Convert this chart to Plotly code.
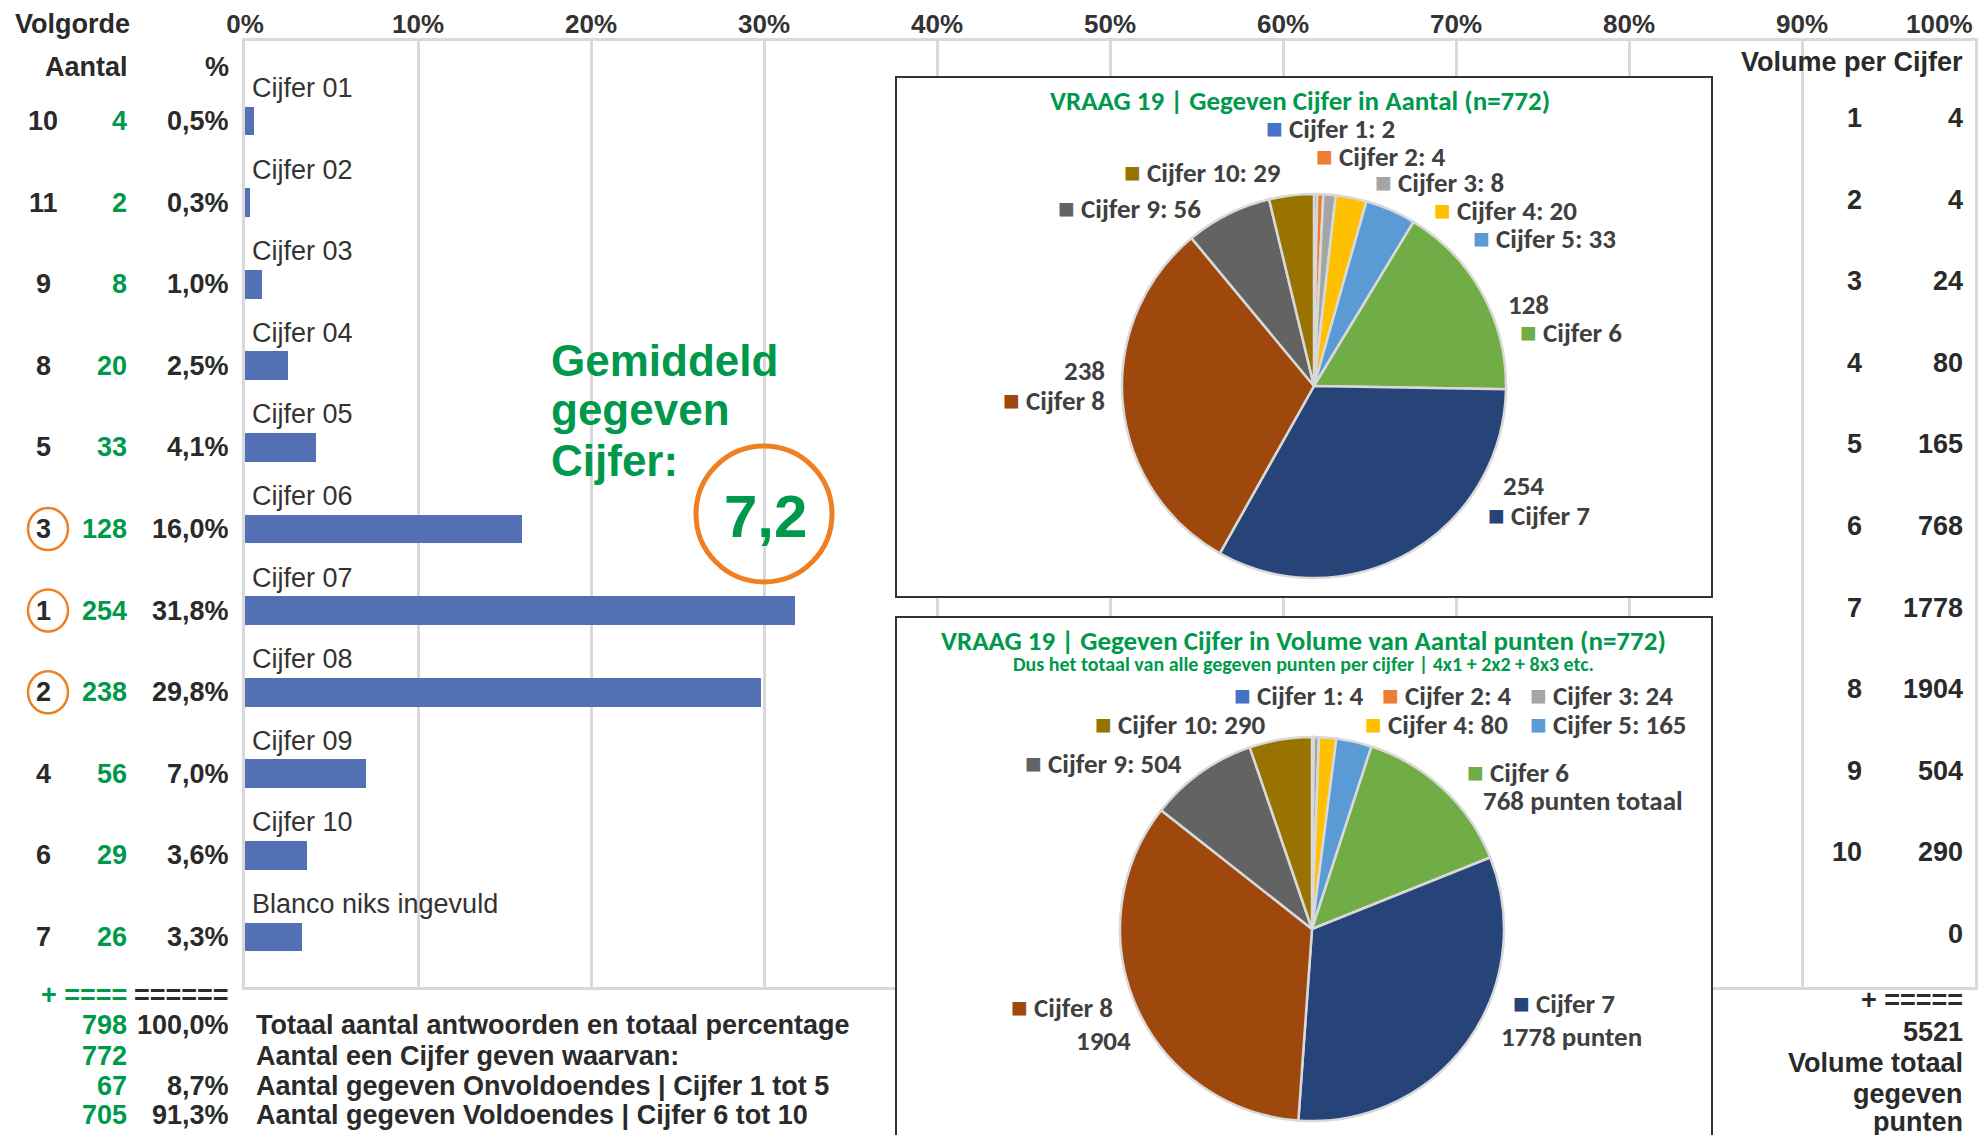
import plotly.graph_objects as go

W, H = 1988, 1135

# ---------------- data ----------------
categories = ["Cijfer 01", "Cijfer 02", "Cijfer 03", "Cijfer 04", "Cijfer 05", "Cijfer 06",
              "Cijfer 07", "Cijfer 08", "Cijfer 09", "Cijfer 10", "Blanco niks ingevuld"]
volgorde = [10, 11, 9, 8, 5, 3, 1, 2, 4, 6, 7]
aantal = [4, 2, 8, 20, 33, 128, 254, 238, 56, 29, 26]
percentages = [0.5, 0.3, 1.0, 2.5, 4.1, 16.0, 31.8, 29.8, 7.0, 3.6, 3.3]

x_tick_vals = [0, 10, 20, 30, 40, 50, 60, 70, 80, 90, 100]
x_tick_labels = ["0%", "10%", "20%", "30%", "40%", "50%", "60%", "70%", "80%", "90%", "100%"]

volume_grades = ["1", "2", "3", "4", "5", "6", "7", "8", "9", "10", ""]
volume_per_cijfer = [4, 4, 24, 80, 165, 768, 1778, 1904, 504, 290, 0]
volume_total = 5521

summary_counts = ["798", "772", "67", "705"]
summary_pcts = ["100,0%", "", "8,7%", "91,3%"]
summary_texts = ["Totaal aantal antwoorden en totaal percentage",
                 "Aantal een Cijfer geven waarvan:",
                 "Aantal gegeven Onvoldoendes | Cijfer 1 tot 5",
                 "Aantal gegeven Voldoendes | Cijfer 6 tot 10"]
gemiddeld_lines = ["Gemiddeld", "gegeven", "Cijfer:"]
gemiddeld_value = "7,2"

pie_grades = [1, 2, 3, 4, 5, 6, 7, 8, 9, 10]
pie_labels = ["Cijfer %d" % g for g in pie_grades]
pie_aantal = [2, 4, 8, 20, 33, 128, 254, 238, 56, 29]
pie_volume = [4, 4, 24, 80, 165, 768, 1778, 1904, 504, 290]
pie1_title = "VRAAG 19 | Gegeven Cijfer in Aantal (n=772)"
pie2_title = "VRAAG 19 | Gegeven Cijfer in Volume van Aantal punten (n=772)"
pie2_subtitle = "Dus het totaal van alle gegeven punten per cijfer | 4x1 + 2x2 + 8x3 etc."

# ---------------- styles ----------------
pie_colors = ["#4472C4", "#ED7D31", "#A5A5A5", "#FFC000", "#5B9BD5",
              "#70AD47", "#264478", "#9E480E", "#636363", "#997300"]
GREEN = "#00994C"
DARK = "#2A2A2A"
GRID = "#D9D9D9"
ORANGE = "#EE7F22"
BAR = "#5470B4"
PIETXT = "#404040"
ARIAL = "Liberation Sans, Arial, sans-serif"
CALIBRI = "Carlito, Calibri, Lato, sans-serif"

PLOT_L, PLOT_R, PLOT_T, PLOT_B = 245, 1975, 41, 990
ROW0, ROW_STEP = 121, 81.6


def px(x):
    return x / W


def py(y):
    return 1 - y / H


y_pos = list(range(len(categories)))
y_top = -(ROW0 - PLOT_T) / ROW_STEP
y_bot = (len(categories) - 1) + (PLOT_B - (ROW0 + ROW_STEP * (len(categories) - 1))) / ROW_STEP


def xdata(x):
    return (x - PLOT_L) / (PLOT_R - PLOT_L) * 100


def ydata(y):
    return y_top + (y - PLOT_T) / ROW_STEP


def pct_txt(p):
    return ("%.1f" % p).replace(".", ",") + "%"


fig = go.Figure()

fig.add_trace(go.Bar(
    x=percentages, y=y_pos, orientation="h", width=0.355,
    marker=dict(color=BAR, line=dict(width=0)), showlegend=False, hoverinfo="x"))


def pie_domain(cx, cy, r):
    return dict(x=[px(cx - r), px(cx + r)], y=[py(cy + r), py(cy - r)])


for vals, dom in [(pie_aantal, pie_domain(1314, 386, 192)),
                  (pie_volume, pie_domain(1312, 929, 192))]:
    fig.add_trace(go.Pie(
        values=vals, labels=pie_labels, sort=False, direction="clockwise", rotation=0,
        marker=dict(colors=pie_colors, line=dict(color=GRID, width=2.5)),
        textinfo="none", domain=dom, showlegend=False, hoverinfo="label+value"))

ann = []


def A(text, x, y, size=27, color=DARK, xanchor="center", xref="paper", yref="paper",
      family=ARIAL, weight="bold", yshift=0, xshift=0):
    ann.append(dict(text=text, x=x, y=y, xref=xref, yref=yref, xanchor=xanchor, yanchor="middle",
                    showarrow=False, yshift=yshift, xshift=xshift,
                    font=dict(family=family, size=size, color=color, weight=weight)))


# headers of left table
A("Volgorde", px(13), py(24), xanchor="left")
A("Aantal", px(130), py(67), xanchor="right")
A("%", px(231), py(67), xanchor="right")

# left table rows and bar category labels
for i, cat in enumerate(categories):
    A(str(volgorde[i]), px(43), i, xanchor="center", yref="y")
    A(str(aantal[i]), px(129), i, xanchor="right", yref="y", color=GREEN)
    A(pct_txt(percentages[i]), px(231), i, xanchor="right", yref="y")
    A(cat, 0, i, xref="x", yref="y", xanchor="left", xshift=5, yshift=33,
      size=27, weight="normal", color="#333333")

# last tick label, pushed inside like the original
A(x_tick_labels[-1], x_tick_vals[-1], py(24), xref="x", xanchor="right", size=26, color="#333333")

# summary rows
A("+ ====", px(129), py(995), xanchor="right", color=GREEN)
A("======", px(231), py(995), xanchor="right")
for k, yy in enumerate([1025, 1056, 1086, 1115]):
    A(summary_counts[k], px(129), py(yy), xanchor="right", color=GREEN)
    if summary_pcts[k]:
        A(summary_pcts[k], px(231), py(yy), xanchor="right")
    A(summary_texts[k], px(254), py(yy), xanchor="left", size=27)

# right table
A("Volume per Cijfer", px(1965), py(62), xanchor="right")
for i in range(len(volume_per_cijfer)):
    if volume_grades[i]:
        A(volume_grades[i], px(1864), i, yref="y", xanchor="right", yshift=3)
    A(str(volume_per_cijfer[i]), px(1965), i, yref="y", xanchor="right", yshift=3)
A("+ =====", px(1965), py(1000), xanchor="right")
A(str(volume_total), px(1965), py(1032), xanchor="right")
A("Volume totaal", px(1965), py(1063), xanchor="right")
A("gegeven", px(1965), py(1094), xanchor="right")
A("punten", px(1965), py(1122), xanchor="right")

# Gemiddeld
for line, yy in zip(gemiddeld_lines, [360, 410, 460]):
    A(line, px(549), py(yy), xanchor="left", size=44, color=GREEN)
A(gemiddeld_value, px(765), py(517), size=60, color=GREEN)


def sq(i):
    return '<span style="color:%s;font-size:28px">■</span> ' % pie_colors[i]


PS = 27
# pie 1 titles / labels
A(pie1_title, px(1300), py(100), size=27, color=GREEN, family=CALIBRI)
p1_pos = {0: (1264, 128), 1: (1314, 156), 9: (1122, 172), 2: (1373, 183), 8: (1056, 208),
          3: (1432, 210), 4: (1471, 238)}
for i, (x0, y0) in p1_pos.items():
    A(sq(i) + "%s: %d" % (pie_labels[i], pie_aantal[i]), px(x0), py(y0), xanchor="left",
      size=PS, family=CALIBRI, color=PIETXT)
A(str(pie_aantal[5]), px(1506), py(304), xanchor="left", size=PS, family=CALIBRI, color=PIETXT)
A(sq(5) + pie_labels[5], px(1518), py(332), xanchor="left", size=PS, family=CALIBRI, color=PIETXT)
A(str(pie_aantal[7]), px(1107), py(370), xanchor="right", size=PS, family=CALIBRI, color=PIETXT)
A(sq(7) + pie_labels[7], px(1107), py(401), xanchor="right", size=PS, family=CALIBRI, color=PIETXT)
A(str(pie_aantal[6]), px(1501), py(486), xanchor="left", size=PS, family=CALIBRI, color=PIETXT)
A(sq(6) + pie_labels[6], px(1486), py(515), xanchor="left", size=PS, family=CALIBRI, color=PIETXT)

# pie 2 titles / labels
A(pie2_title, px(1303), py(640), size=27, color=GREEN, family=CALIBRI)
A(pie2_subtitle, px(1303), py(664), size=20, color=GREEN, family=CALIBRI)
p2_pos = {0: (1232, 695), 1: (1380, 695), 2: (1528, 695), 9: (1093, 724), 3: (1363, 724),
          4: (1528, 724), 8: (1023, 763)}
for i, (x0, y0) in p2_pos.items():
    A(sq(i) + "%s: %d" % (pie_labels[i], pie_volume[i]), px(x0), py(y0), xanchor="left",
      size=PS, family=CALIBRI, color=PIETXT)
A(sq(5) + pie_labels[5], px(1465), py(772), xanchor="left", size=PS, family=CALIBRI, color=PIETXT)
A("%d punten totaal" % pie_volume[5], px(1481), py(800), xanchor="left", size=PS, family=CALIBRI, color=PIETXT)
A(sq(7) + pie_labels[7], px(1009), py(1007), xanchor="left", size=PS, family=CALIBRI, color=PIETXT)
A(str(pie_volume[7]), px(1074), py(1040), xanchor="left", size=PS, family=CALIBRI, color=PIETXT)
A(sq(6) + pie_labels[6], px(1511), py(1003), xanchor="left", size=PS, family=CALIBRI, color=PIETXT)
A("%d punten" % pie_volume[6], px(1499), py(1036), xanchor="left", size=PS, family=CALIBRI, color=PIETXT)

shapes = []
# bottom frame line of plot area (drawn under the pie boxes, above gridlines)
shapes.append(dict(type="line", xref="x", yref="y", x0=0, x1=100, y0=y_bot, y1=y_bot,
                   layer="between", line=dict(color=GRID, width=6)))
boxes = [(896, 77, 1712, 597), (896, 617, 1712, 1142)]
# white box backgrounds hiding gridlines
for (x0, y0, x1, y1) in boxes:
    shapes.append(dict(type="rect", xref="x", yref="y",
                       x0=xdata(x0), x1=xdata(x1), y0=ydata(y0), y1=ydata(y1), layer="between",
                       fillcolor="white", line=dict(width=0)))
# box outlines
for (x0, y0, x1, y1) in boxes:
    shapes.append(dict(type="rect", xref="paper", yref="paper",
                       x0=px(x0), x1=px(x1), y0=py(y1), y1=py(y0), layer="above",
                       fillcolor="rgba(0,0,0,0)", line=dict(color="#333333", width=2)))
# circles around top-3 in volgorde
for i, v in enumerate(volgorde):
    if v <= 3:
        shapes.append(dict(type="circle", xref="paper", yref="y", xsizemode="pixel",
                           ysizemode="pixel", xanchor=px(48), yanchor=i, x0=-20, x1=20,
                           y0=-21, y1=21, line=dict(color=ORANGE, width=2.5), layer="above"))
# circle around average
shapes.append(dict(type="circle", xref="paper", yref="paper", xsizemode="pixel", ysizemode="pixel",
                   xanchor=px(764), yanchor=py(514), x0=-68, x1=68, y0=-68, y1=68,
                   line=dict(color=ORANGE, width=5), layer="above"))

fig.update_layout(
    width=W, height=H, margin=dict(l=0, r=0, t=0, b=0, pad=0, autoexpand=False),
    paper_bgcolor="white", plot_bgcolor="white",
    annotations=ann, shapes=shapes, bargap=0,
    xaxis=dict(domain=[px(PLOT_L), px(PLOT_R)], range=[0, 100], side="top",
               tickvals=x_tick_vals[:-1], ticktext=x_tick_labels[:-1],
               tickfont=dict(family=ARIAL, size=26, color="#333333", weight="bold"),
               showgrid=True, gridcolor=GRID, gridwidth=3, zeroline=False,
               showline=True, linecolor=GRID, linewidth=3, mirror=False, ticks="",
               ticklabelstandoff=-5, fixedrange=True, automargin=False),
    yaxis=dict(domain=[py(PLOT_B), py(PLOT_T)], range=[y_bot, y_top],
               showticklabels=False, showgrid=False, zeroline=False,
               showline=True, linecolor=GRID, linewidth=3, mirror=True, ticks="",
               fixedrange=True, automargin=False),
)

fig.write_html("out.html", config={"displayModeBar": False},
               post_script="document.body.style.margin='0';document.body.style.padding='0';")
